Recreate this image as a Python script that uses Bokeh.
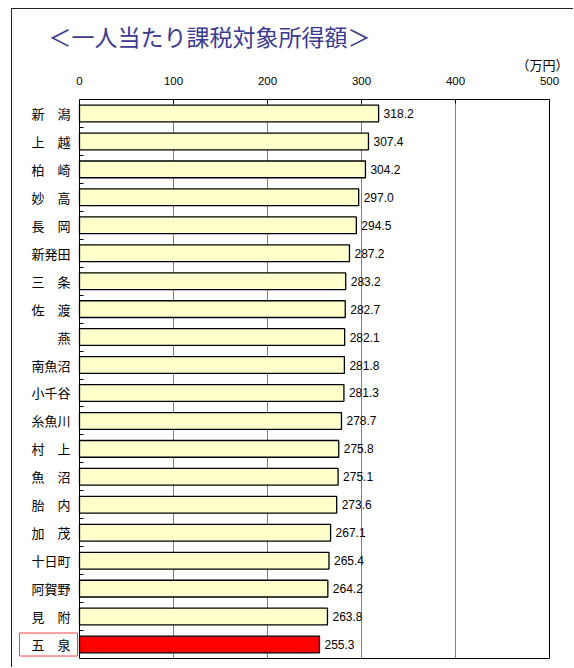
from bokeh.plotting import figure
from bokeh.models import Range1d, FixedTicker, Title, ColumnDataSource, LinearAxis
from bokeh.embed import file_html
from bokeh.resources import INLINE
from bokeh.core.properties import value

# ---- data ----
cities = ["新　潟", "上　越", "柏　崎", "妙　高", "長　岡", "新発田", "三　条", "佐　渡", "燕",
          "南魚沼", "小千谷", "糸魚川", "村　上", "魚　沼", "胎　内", "加　茂", "十日町", "阿賀野",
          "見　附", "五　泉"]
income = [318.2, 307.4, 304.2, 297.0, 294.5, 287.2, 283.2, 282.7, 282.1, 281.8,
          281.3, 278.7, 275.8, 275.1, 273.6, 267.1, 265.4, 264.2, 263.8, 255.3]
highlight = "五　泉"
x_ticks = [0, 100, 200, 300, 400, 500]
title_text = "＜一人当たり課税対象所得額＞"
unit_text = "（万円）"

n = len(cities)
ypos = list(range(n))
hi = cities.index(highlight)
colors = ["#FF0000" if c == highlight else "#FFFFCC" for c in cities]
labels = [f"{v:.1f}" for v in income]
src = ColumnDataSource(dict(y=ypos, income=income, color=colors, label=labels))

JP = "Noto Sans CJK JP"
EN = "Liberation Sans"

# ---- layout constants (pixels) ----
label_px = 67      # room for the category names, left of the value axis
plot_px = 470      # width of the value area
x_lo, x_hi = x_ticks[0], x_ticks[-1]
x_start = x_lo - label_px * (x_hi - x_lo) / plot_px

p = figure(width=562, height=659,
           x_range=Range1d(x_start, x_hi),
           y_range=Range1d(n - 0.5, -0.5),
           x_axis_location="above",
           output_backend="svg", toolbar_location=None,
           min_border_left=0, min_border_top=88, min_border_right=25, min_border_bottom=10,
           margin=(8, 0, 0, 11))
p.styles = {"border-top": "1px solid #222222", "border-left": "1px solid #222222"}
p.outline_line_color = None

p.hbar(y="y", left=x_lo, right="income", height=0.6, fill_color="color",
       line_color="black", line_width=1.3, source=src)
p.text(x="income", y="y", text="label", x_offset=5, text_baseline="middle",
       text_font=value(EN), text_font_size="12px", text_color="black", source=src)

# top value axis
xa = p.xaxis[0]
xa.ticker = FixedTicker(ticks=x_ticks)
xa.bounds = (x_lo, x_hi)
xa.major_tick_in = 4
xa.major_tick_out = 0
xa.minor_tick_in = 0
xa.minor_tick_out = 0
xa.axis_line_color = "black"
xa.major_tick_line_color = "black"
xa.major_label_text_font = EN
xa.major_label_text_font_size = "11.5px"
xa.major_label_text_color = "black"
xa.major_label_standoff = 15

# bottom and right edges of the value area
xb = LinearAxis(ticker=FixedTicker(ticks=[]), bounds=(x_lo, x_hi),
                major_tick_in=0, major_tick_out=0, minor_tick_in=0, minor_tick_out=0,
                major_label_standoff=0, axis_line_color="black")
p.add_layout(xb, "below")
yr = LinearAxis(ticker=FixedTicker(ticks=[]),
                major_tick_in=0, major_tick_out=0, minor_tick_in=0, minor_tick_out=0,
                major_label_standoff=0, axis_line_color="black")
p.add_layout(yr, "right")

# category axis placed at value 0
ya = p.yaxis[0]
ya.fixed_location = x_lo
ya.ticker = FixedTicker(ticks=ypos, minor_ticks=[i + 0.5 for i in ypos[:-1]])
ya.major_tick_in = 0
ya.major_tick_out = 0
ya.minor_tick_in = 4
ya.minor_tick_out = 0
ya.minor_tick_line_color = "black"
ya.axis_line_color = "black"
ya.major_label_text_font = JP
ya.major_label_text_font_size = "13px"
ya.major_label_text_color = "black"
ya.major_label_standoff = 9
ya.major_label_overrides = {i: ("" if i == hi else c) for i, c in enumerate(cities)}

# highlighted category name in a red frame
p.text(x=[x_lo], y=[hi], text=[highlight], x_offset=-2, text_align="right",
       text_baseline="middle", text_font=value(JP), text_font_size="13px",
       text_color="black", border_line_color="#FF4040", border_line_width=1,
       background_fill_color="white",
       padding=dict(left=12, right=7, top=2, bottom=2))

p.xgrid.grid_line_color = "#808080"
p.ygrid.grid_line_color = None

unit_title = Title(text=unit_text, align="right", offset=-19, text_font=JP,
                   text_font_size="13px", text_font_style="normal", text_color="black",
                   standoff=0)
p.add_layout(unit_title, "above")

main_title = Title(text=title_text, align="left", offset=36, text_font=JP,
                   text_font_size="23px", text_font_style="normal", text_color="#3b3b8f",
                   standoff=0)
p.add_layout(main_title, "above")

# small blank band above the heading
spacer = Title(text=" ", text_font_size="1px", standoff=4)
p.add_layout(spacer, "above")

open("out.html", "w").write(file_html(p, INLINE))
